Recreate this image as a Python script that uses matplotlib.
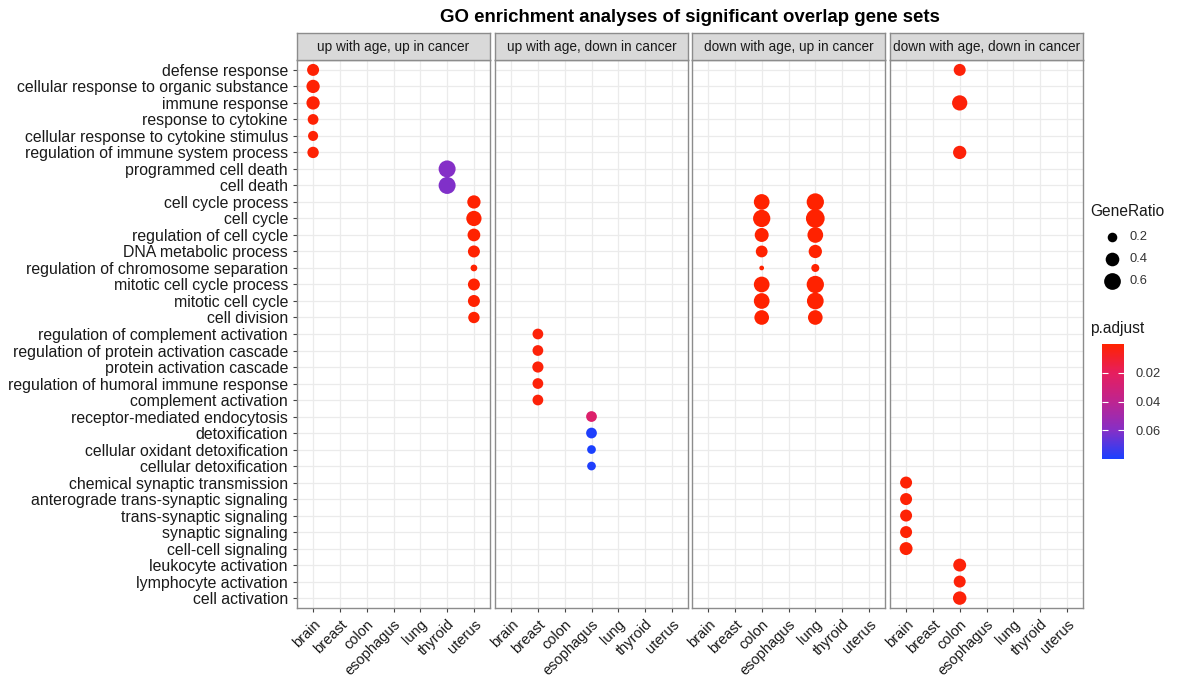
import numpy as np
import matplotlib
matplotlib.use("Agg")
from matplotlib import pyplot as plt
from matplotlib.colors import LinearSegmentedColormap, Normalize
from matplotlib.cm import ScalarMappable

plt.rcParams['font.family'] = ['Liberation Sans', 'DejaVu Sans']

groups = ["up with age, up in cancer", "up with age, down in cancer",
          "down with age, up in cancer", "down with age, down in cancer"]
tissues = ["brain", "breast", "colon", "esophagus", "lung", "thyroid", "uterus"]
terms = [
    "defense response", "cellular response to organic substance", "immune response",
    "response to cytokine", "cellular response to cytokine stimulus",
    "regulation of immune system process", "programmed cell death", "cell death",
    "cell cycle process", "cell cycle", "regulation of cell cycle", "DNA metabolic process",
    "regulation of chromosome separation", "mitotic cell cycle process", "mitotic cell cycle",
    "cell division", "regulation of complement activation",
    "regulation of protein activation cascade", "protein activation cascade",
    "regulation of humoral immune response", "complement activation",
    "receptor-mediated endocytosis", "detoxification", "cellular oxidant detoxification",
    "cellular detoxification", "chemical synaptic transmission",
    "anterograde trans-synaptic signaling", "trans-synaptic signaling", "synaptic signaling",
    "cell-cell signaling", "leukocyte activation", "lymphocyte activation", "cell activation",
]

# enriched terms: facet index, tissue, term, GeneRatio, p.adjust
dot_group = [0] * 16 + [1] * 9 + [2] * 16 + [3] * 11
dot_tissue = (["brain"] * 6 + ["thyroid"] * 2 + ["uterus"] * 8
              + ["breast"] * 5 + ["esophagus"] * 4
              + ["colon"] * 8 + ["lung"] * 8
              + ["colon"] * 3 + ["brain"] * 5 + ["colon"] * 3)
dot_term = (terms[0:6] + terms[6:8] + terms[8:16]
            + terms[16:21] + terms[21:25]
            + terms[8:16] + terms[8:16]
            + [terms[0], terms[2], terms[5]] + terms[25:30] + terms[30:33])
dot_ratio = [0.31, 0.38, 0.38, 0.25, 0.22, 0.28,
             0.62, 0.62,
             0.38, 0.50, 0.35, 0.31, 0.10, 0.31, 0.31, 0.28,
             0.25, 0.25, 0.27, 0.25, 0.25,
             0.25, 0.25, 0.165, 0.165,
             0.53, 0.64, 0.42, 0.30, 0.05, 0.53, 0.53, 0.46,
             0.64, 0.75, 0.53, 0.38, 0.14, 0.64, 0.60, 0.46,
             0.31, 0.50, 0.38,
             0.31, 0.31, 0.31, 0.31, 0.36,
             0.36, 0.31, 0.39]
dot_padj = [0.001] * 6 + [0.060, 0.061] + [0.0005] * 8 \
    + [0.002] * 5 + [0.025, 0.079, 0.080, 0.079] \
    + [0.0001] * 16 \
    + [0.002] * 3 + [0.001] * 5 + [0.002] * 3

size_breaks = [0.2, 0.4, 0.6]
padj_ticks = [0.02, 0.04, 0.06]
padj_lim = (0.0, 0.08)

W, H = 1182, 680
fig = plt.figure(figsize=(W / 100, H / 100), dpi=100)


def px_axes(x0, y0, x1, y1):
    return fig.add_axes([x0 / W, 1 - y1 / H, (x1 - x0) / W, (y1 - y0) / H])


def dot_size(r):
    d = np.sqrt(np.maximum(-1.4 + 468 * np.asarray(r), 1.0))
    return (d * 0.72) ** 2


cmap = LinearSegmentedColormap.from_list(
    "padj", ["#FF2200", "#E61E5E", "#BE2490", "#862FC6", "#1A40FF"])
norm = Normalize(*padj_lim)

frame = "#8C8C8C"
text_col = "#1A1A1A"
panel_x = [297, 495, 692, 890]
panel_w = 193
top, strip_top, bottom = 60, 33, 608

dot_group = np.array(dot_group)
xi = np.array([tissues.index(t) for t in dot_tissue])
yi = np.array([terms.index(t) for t in dot_term])
ratio = np.array(dot_ratio)
padj = np.array(dot_padj)

for g, name in enumerate(groups):
    x0 = panel_x[g]
    ax = px_axes(x0, top, x0 + panel_w, bottom)
    ax.set_xlim(-0.6, len(tissues) - 0.4)
    ax.set_ylim(len(terms) - 0.4, -0.6)
    ax.set_xticks(range(len(tissues)))
    ax.set_yticks(range(len(terms)))
    ax.grid(True, color="#EBEBEB", lw=0.9)
    ax.set_axisbelow(True)
    for sp in ax.spines.values():
        sp.set_color(frame)
        sp.set_linewidth(1.0)
    ax.tick_params(length=3, width=0.8, color="#444444", labelcolor=text_col)
    ax.set_xticklabels(tissues, rotation=45, ha="right", va="top",
                       rotation_mode="anchor", fontsize=10.5)
    if g == 0:
        ax.set_yticklabels(terms, fontsize=11.4)
    else:
        ax.tick_params(axis="y", length=0, labelleft=False)
    m = dot_group == g
    ax.scatter(xi[m], yi[m], s=dot_size(ratio[m]), c=padj[m], cmap=cmap, norm=norm,
               linewidths=0, zorder=3)

    strip = px_axes(x0, strip_top, x0 + panel_w, top)
    strip.set_facecolor("#D9D9D9")
    strip.set_xticks([])
    strip.set_yticks([])
    for sp in strip.spines.values():
        sp.set_color(frame)
        sp.set_linewidth(1.0)
    strip.text(0.5, 0.5, name, ha="center", va="center", fontsize=9.8,
               color="#1A1A1A", transform=strip.transAxes)

fig.text((panel_x[0] + panel_x[-1] + panel_w) / 2 / W, 1 - 18 / H,
         "GO enrichment analyses of significant overlap gene sets",
         ha="center", va="center", fontsize=13.4, fontweight="bold")

# GeneRatio legend
leg = px_axes(1085, 200, 1182, 300)
leg.set_xlim(1085, 1182)
leg.set_ylim(300, 200)
leg.axis("off")
leg.text(1090, 212, "GeneRatio", fontsize=11.2, va="center", color=text_col)
for k, b in enumerate(size_breaks):
    yy = 237 + 22 * k
    leg.scatter(1112, yy, s=dot_size(b), color="black", linewidths=0)
    leg.text(1130, yy, f"{b:g}", fontsize=9.3, va="center", color="#333333")

# p.adjust colour bar
fig.text(1090 / W, 1 - 328 / H, "p.adjust", fontsize=11.2, va="center", color=text_col)
cax = px_axes(1102, 344, 1124, 459)
cb = fig.colorbar(ScalarMappable(norm=norm, cmap=cmap), cax=cax)
cb.outline.set_visible(False)
cax.invert_yaxis()
cb.set_ticks(padj_ticks)
cb.set_ticklabels([f"{t:g}" for t in padj_ticks])
cax.tick_params(direction="in", color="white", length=4, width=0.8,
                left=True, right=True, labelsize=9.3, labelcolor="#333333", pad=8)

fig.savefig("out.png", dpi=100)
